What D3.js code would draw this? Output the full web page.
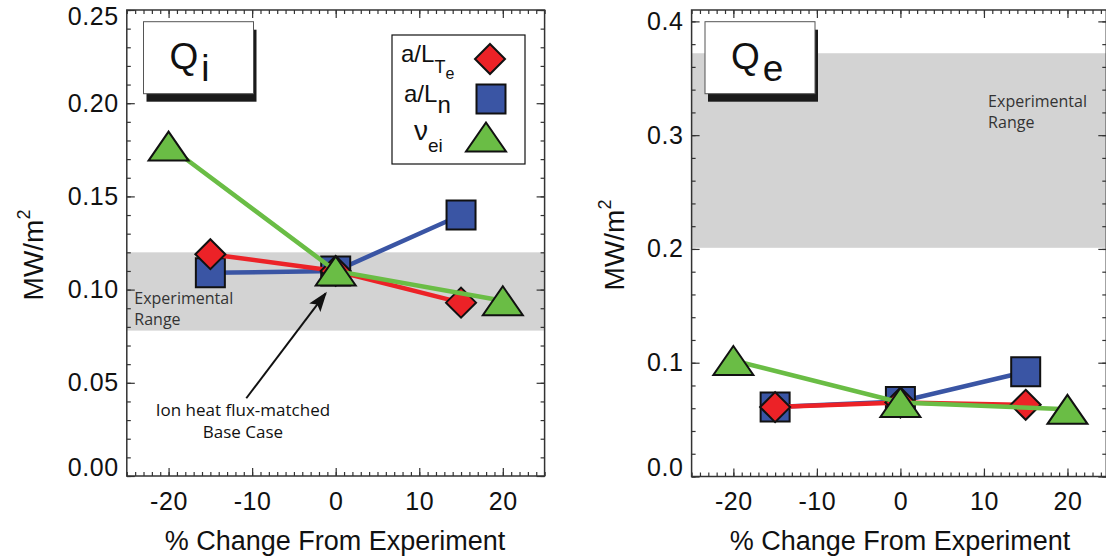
<!DOCTYPE html>
<html>
<head>
<meta charset="utf-8">
<script src="https://cdn.jsdelivr.net/npm/d3@7"></script>
<style>
  body { margin: 0; background: #fff; }
  svg { display: block; }
  .tick text { font-family: "Liberation Sans", Arial, sans-serif; fill: #111; }
</style>
</head>
<body>
<svg id="chart" width="1106" height="560"></svg>
<script>
// x positions (% change from experiment)
var gradX = [-15, 0, 15];   // a/LTe and a/Ln scans
var nuX = [-20, 0, 20];     // nu_ei scan

// ion heat flux Qi (MW/m^2)
var qiTe = [0.119, 0.110, 0.093];
var qiN = [0.109, 0.110, 0.140];
var qiNu = [0.177, 0.110, 0.094];

// electron heat flux Qe (MW/m^2)
var qeTe = [0.061, 0.065, 0.063];
var qeN = [0.061, 0.066, 0.092];
var qeNu = [0.102, 0.065, 0.059];

// experimental ranges
var qiRange = [0.078, 0.120];
var qeRange = [0.201, 0.372];

// tick labels
var xTicks = [-20, -10, 0, 10, 20];
var qiTicks = [0.00, 0.05, 0.10, 0.15, 0.20, 0.25];
var qeTicks = [0.0, 0.1, 0.2, 0.3, 0.4];

var red = "#ec2227", blue = "#3a55a4", green = "#6abd45";
var svg = d3.select("#chart");

// marker shapes (centred on the point)
var shapes = {
    diamond: "M0,-15L15,0L0,15L-15,0Z",
    square: "M-14.5,-14.5h29v29h-29Z",
    triangle: "M0,-14.5L20,14.5L-20,14.5Z"
};

// arrow head for the annotation
svg.append("defs").append("marker")
    .attr("id", "head")
    .attr("markerUnits", "userSpaceOnUse")
    .attr("viewBox", "0 0 20 14")
    .attr("refX", 18).attr("refY", 7)
    .attr("markerWidth", 20).attr("markerHeight", 14)
    .attr("orient", "auto")
    .append("path")
    .attr("d", "M0,0L20,7L0,14L4,7Z")
    .attr("fill", "#111");

function drawPanel(opt) {
    var x = d3.scaleLinear().domain(opt.xDomain).range([opt.left, opt.right]);
    var y = d3.scaleLinear().domain([0, opt.yMax]).range([opt.bottom, opt.top]);
    var g = svg.append("g");

    // grey band = experimental range
    g.append("rect")
        .attr("x", opt.left)
        .attr("width", opt.right - opt.left)
        .attr("y", y(opt.range[1]))
        .attr("height", y(opt.range[0]) - y(opt.range[1]))
        .attr("fill", "#d3d3d3");

    g.append("text")
        .attr("x", x(opt.rangeLabel[0]))
        .attr("y", y(opt.rangeLabel[1]))
        .attr("font-family", "Open Sans, sans-serif")
        .attr("font-size", 16)
        .attr("fill", "#333")
        .selectAll("tspan")
        .data(["Experimental", "Range"])
        .join("tspan")
        .attr("x", x(opt.rangeLabel[0]))
        .attr("dy", function (d, i) { return i ? 21 : 0; })
        .text(function (d) { return d; });

    if (opt.extra) opt.extra(g, x, y);

    // series: line then markers, blue, red, green
    var line = d3.line()
        .x(function (d) { return x(d[0]); })
        .y(function (d) { return y(d[1]); });

    opt.series.forEach(function (s) {
        var pts = d3.zip(s.x, s.y);
        g.append("path")
            .attr("d", line(pts))
            .attr("fill", "none")
            .attr("stroke", s.color)
            .attr("stroke-width", 4.5);
        g.selectAll(null)
            .data(pts)
            .join("path")
            .attr("transform", function (d) { return "translate(" + x(d[0]) + "," + y(d[1]) + ")"; })
            .attr("d", shapes[s.shape])
            .attr("fill", s.color)
            .attr("stroke", "#111")
            .attr("stroke-width", 2);
    });

    // axes: ticks point inwards on all four sides
    function styleAxis(sel) {
        sel.select(".domain").remove();
        sel.selectAll(".tick line").attr("stroke", "#333").attr("stroke-width", 1.2);
        sel.selectAll(".tick text").attr("font-size", 25).attr("letter-spacing", 0.6);
    }
    var minorX = d3.range(-25, opt.xDomain[1] + 1e-9, 1);
    var minorY = d3.range(0, opt.yMax + 1e-9, opt.minorStep);

    [[d3.axisBottom, opt.bottom], [d3.axisTop, opt.top]].forEach(function (a, i) {
        g.append("g").attr("transform", "translate(0," + a[1] + ")")
            .call(a[0](x).tickValues(minorX).tickSize(-4).tickFormat(""))
            .call(styleAxis);
        g.append("g").attr("transform", "translate(0," + a[1] + ")")
            .call(a[0](x).tickValues(xTicks).tickSize(-8).tickPadding(16)
                .tickFormat(i ? "" : function (d) { return String(d); }))
            .call(styleAxis);
    });
    [[d3.axisLeft, opt.left], [d3.axisRight, opt.right]].forEach(function (a, i) {
        g.append("g").attr("transform", "translate(" + a[1] + ",0)")
            .call(a[0](y).tickValues(minorY).tickSize(-4).tickFormat(""))
            .call(styleAxis);
        var ax = g.append("g").attr("transform", "translate(" + a[1] + ",0)")
            .call(a[0](y).tickValues(opt.yTicks).tickSize(-8).tickPadding(8)
                .tickFormat(i ? "" : d3.format(opt.fmt)))
            .call(styleAxis);
        if (!i) {
            // labels at the frame edges sit inside the frame
            ax.selectAll(".tick text")
                .attr("y", function (d) {
                    if (d === 0) return -9;
                    if (Math.abs(y(d) - opt.top) < 2) return 6;
                    return 0;
                });
        }
    });

    // frame
    g.append("rect")
        .attr("x", opt.left).attr("y", opt.top)
        .attr("width", opt.right - opt.left)
        .attr("height", opt.bottom - opt.top)
        .attr("fill", "none")
        .attr("stroke", "#333")
        .attr("stroke-width", 1.5);

    // title box with drop shadow
    var b = opt.box;
    g.append("rect").attr("x", b[0] + 3).attr("y", b[1] + 8).attr("width", 110).attr("height", 72).attr("fill", "#1a1a1a");
    g.append("rect").attr("x", b[0]).attr("y", b[1]).attr("width", 110).attr("height", 72)
        .attr("fill", "#fff").attr("stroke", "#555").attr("stroke-width", 1);
    var t = g.append("text")
        .attr("x", b[0] + 26).attr("y", b[1] + 47)
        .attr("font-family", "Liberation Sans, Arial, sans-serif")
        .attr("font-size", 37)
        .attr("fill", "#111");
    t.append("tspan").text("Q");
    t.append("tspan").attr("dx", 3).attr("dy", 12).text(opt.sub);

    // axis titles
    g.append("text")
        .attr("x", opt.xTitle)
        .attr("y", 550)
        .attr("text-anchor", "middle")
        .attr("font-family", "Liberation Sans, Arial, sans-serif")
        .attr("font-size", 27)
        .attr("fill", "#111")
        .text("% Change From Experiment");

    var yt = g.append("text")
        .attr("transform", "translate(" + opt.yTitle[0] + "," + opt.yTitle[1] + ") rotate(-90)")
        .attr("text-anchor", "middle")
        .attr("font-family", "Liberation Sans, Arial, sans-serif")
        .attr("font-size", 28)
        .attr("fill", "#111");
    yt.append("tspan").text("MW/m");
    yt.append("tspan").attr("font-size", 18).attr("dy", -13).text("2");

    return { x: x, y: y, g: g };
}

var left = drawPanel({
    left: 126.8, right: 544.6, top: 10, bottom: 476,
    xDomain: [-25, 25],
    yMax: 0.25, yTicks: qiTicks, minorStep: 0.01, fmt: ".2f",
    range: qiRange, rangeLabel: [-24.1, 0.0925],
    box: [143.5, 21.7], sub: "i",
    xTitle: 335, yTitle: [43, 255],
    series: [
        { x: gradX, y: qiN, color: blue, shape: "square" },
        { x: gradX, y: qiTe, color: red, shape: "diamond" },
        { x: nuX, y: qiNu, color: green, shape: "triangle" }
    ],
    extra: function (g, x, y) {
        g.append("line")
            .attr("x1", x(-10.7)).attr("y1", y(0.0417))
            .attr("x2", x(-1.2)).attr("y2", y(0.098))
            .attr("stroke", "#111").attr("stroke-width", 2)
            .attr("marker-end", "url(#head)");
        g.append("text")
            .attr("x", x(-11.1)).attr("y", y(0.032))
            .attr("text-anchor", "middle")
            .attr("font-family", "Open Sans, sans-serif")
            .attr("font-size", 17)
            .attr("fill", "#111")
            .selectAll("tspan")
            .data(["Ion heat flux-matched", "Base Case"])
            .join("tspan")
            .attr("x", x(-11.1))
            .attr("dy", function (d, i) { return i ? 22 : 0; })
            .text(function (d) { return d; });
    }
});

// legend inside the Qi panel
var lg = left.g.append("g");
lg.append("rect").attr("x", 392).attr("y", 35).attr("width", 133).attr("height", 129)
    .attr("fill", "#fff").attr("stroke", "#111").attr("stroke-width", 1.2);
var legendRows = [
    { main: "a/L", subs: [["T", 18, 11], ["e", 16, 6]], x: 401, y: 62, shape: "diamond", color: red, mx: 490 },
    { main: "a/L", subs: [["n", 24, 11]], x: 404, y: 102, shape: "square", color: blue, mx: 491 },
    { main: "\u03bd", subs: [["ei", 19, 12]], x: 414, y: 140, shape: "triangle", color: green, mx: 486 }
];
legendRows.forEach(function (r) {
    var t = lg.append("text").attr("x", r.x).attr("y", r.y)
        .attr("font-family", "Liberation Sans, Arial, sans-serif")
        .attr("font-size", 24).attr("fill", "#111");
    t.append("tspan").attr("font-size", r.main === "a/L" ? 24 : 28).text(r.main);
    r.subs.forEach(function (s) {
        t.append("tspan").attr("font-size", s[1]).attr("dy", s[2]).text(s[0]);
    });
    lg.append("path")
        .attr("transform", "translate(" + r.mx + "," + (r.y - 3) + ")")
        .attr("d", shapes[r.shape])
        .attr("fill", r.color).attr("stroke", "#111").attr("stroke-width", 2);
});

drawPanel({
    left: 691.6, right: 1106.3, top: 10, bottom: 476.5,
    xDomain: [-25, 24.65],
    yMax: 0.41, yTicks: qeTicks, minorStep: 0.02, fmt: ".1f",
    range: qeRange, rangeLabel: [10.5, 0.325],
    box: [705, 21.7], sub: "e",
    xTitle: 900, yTitle: [624, 245],
    series: [
        { x: gradX, y: qeN, color: blue, shape: "square" },
        { x: gradX, y: qeTe, color: red, shape: "diamond" },
        { x: nuX, y: qeNu, color: green, shape: "triangle" }
    ]
});
</script>
</body>
</html>
